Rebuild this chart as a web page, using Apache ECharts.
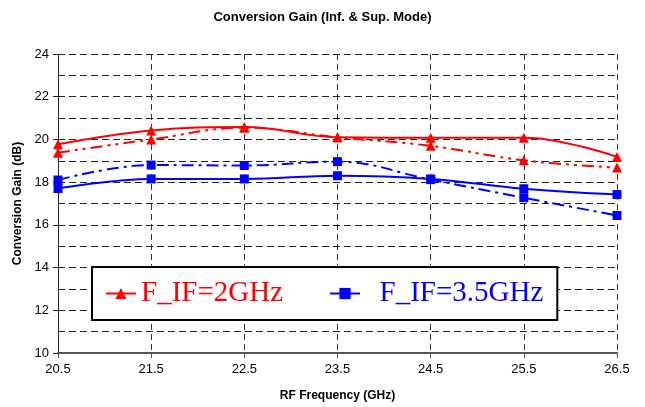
<!DOCTYPE html>
<html><head><meta charset="utf-8">
<script src="https://cdn.jsdelivr.net/npm/echarts@6/dist/echarts.min.js"></script>
<style>html,body{margin:0;padding:0;background:#fff}#c{width:645px;height:407px}</style>
</head><body><div id="c"></div>
<script>
const categories = ['20.5','21.5','22.5','23.5','24.5','25.5','26.5'];
const if2Solid = [19.77, 20.42, 20.58, 20.1, 20.08, 20.08, 19.18];
const if2Dashed = [19.38, 20.0, 20.55, 20.1, 19.7, 19.02, 18.68];
const if35Solid = [17.7, 18.15, 18.15, 18.3, 18.15, 17.69, 17.42];
const if35Dashed = [18.1, 18.8, 18.78, 18.96, 18.12, 17.27, 16.44];
const yTicks = {min: 10, max: 24, interval: 2};

const RED = '#ff0000', BLUE = '#0000ff';
const chart = echarts.init(document.getElementById('c'));
chart.setOption({
  animation: false,
  backgroundColor: '#fff',
  title: {text: 'Conversion Gain (Inf. & Sup. Mode)', left: 'center', top: 6,
    textStyle: {fontFamily: 'Liberation Sans', fontSize: 13, fontWeight: 'bold', color: '#000'}},
  grid: {left: 58, right: 28, top: 54, bottom: 54},
  legend: {
    left: 92, top: 267, orient: 'horizontal',
    backgroundColor: '#fff', borderColor: '#000', borderWidth: 2, borderRadius: 0,
    padding: [12, 14, 12, 13], itemGap: 46, itemWidth: 30, itemHeight: 14,
    textStyle: {fontFamily: 'Liberation Serif', fontSize: 29},
    formatter: function (n) { return n === 'F_IF=3.5GHz' ? '  ' + n : n; },
    data: [
      {name: 'F_IF=2GHz', textStyle: {color: RED}},
      {name: 'F_IF=3.5GHz', textStyle: {color: BLUE}}
    ]
  },
  xAxis: {
    type: 'category', data: categories, boundaryGap: false,
    name: 'RF Frequency (GHz)', nameLocation: 'middle', nameGap: 37,
    nameTextStyle: {fontFamily: 'Liberation Sans', fontSize: 12, fontWeight: 'bold', color: '#000'},
    axisLine: {lineStyle: {color: '#555', width: 2}},
    axisTick: {show: true, length: 5, lineStyle: {color: '#555'}},
    axisLabel: {fontFamily: 'Liberation Sans', fontSize: 13, color: '#000', margin: 10},
    splitLine: {show: true, lineStyle: {color: '#333', type: [6, 4], width: 1}}
  },
  yAxis: {
    type: 'value', min: yTicks.min, max: yTicks.max, interval: yTicks.interval,
    name: 'Conversion Gain (dB)', nameLocation: 'middle', nameGap: 33,
    nameTextStyle: {fontFamily: 'Liberation Sans', fontSize: 12, fontWeight: 'bold', color: '#000'},
    axisLine: {show: true, lineStyle: {color: '#222', width: 1}},
    axisTick: {show: true, length: 5, lineStyle: {color: '#222'}},
    axisLabel: {fontFamily: 'Liberation Sans', fontSize: 13, color: '#000', margin: 9},
    splitLine: {show: true, lineStyle: {color: '#222', type: [7, 4], width: 1}},
    minorTick: {show: false, splitNumber: 2},
    minorSplitLine: {show: true, lineStyle: {color: '#222', type: [7, 4], width: 1}}
  },
  series: [
    {name: 'F_IF=2GHz', type: 'line', data: if2Solid, smooth: 0.4,
      symbol: 'triangle', symbolSize: 10, color: RED,
      lineStyle: {color: RED, width: 2, type: 'solid'}, itemStyle: {color: RED}},
    {name: 'F_IF=2GHz (dashed)', type: 'line', data: if2Dashed, smooth: 0.4,
      symbol: 'triangle', symbolSize: 10, color: RED,
      lineStyle: {color: RED, width: 2, type: [12, 5, 3, 5, 3, 5]}, itemStyle: {color: RED}},
    {name: 'F_IF=3.5GHz', type: 'line', data: if35Solid, smooth: 0.4,
      symbol: 'rect', symbolSize: 9, color: BLUE,
      lineStyle: {color: BLUE, width: 2, type: 'solid'}, itemStyle: {color: BLUE}},
    {name: 'F_IF=3.5GHz (dashed)', type: 'line', data: if35Dashed, smooth: 0.4,
      symbol: 'rect', symbolSize: 9, color: BLUE,
      lineStyle: {color: BLUE, width: 2, type: [12, 5, 3, 5]}, itemStyle: {color: BLUE}}
  ]
});
</script></body></html>
